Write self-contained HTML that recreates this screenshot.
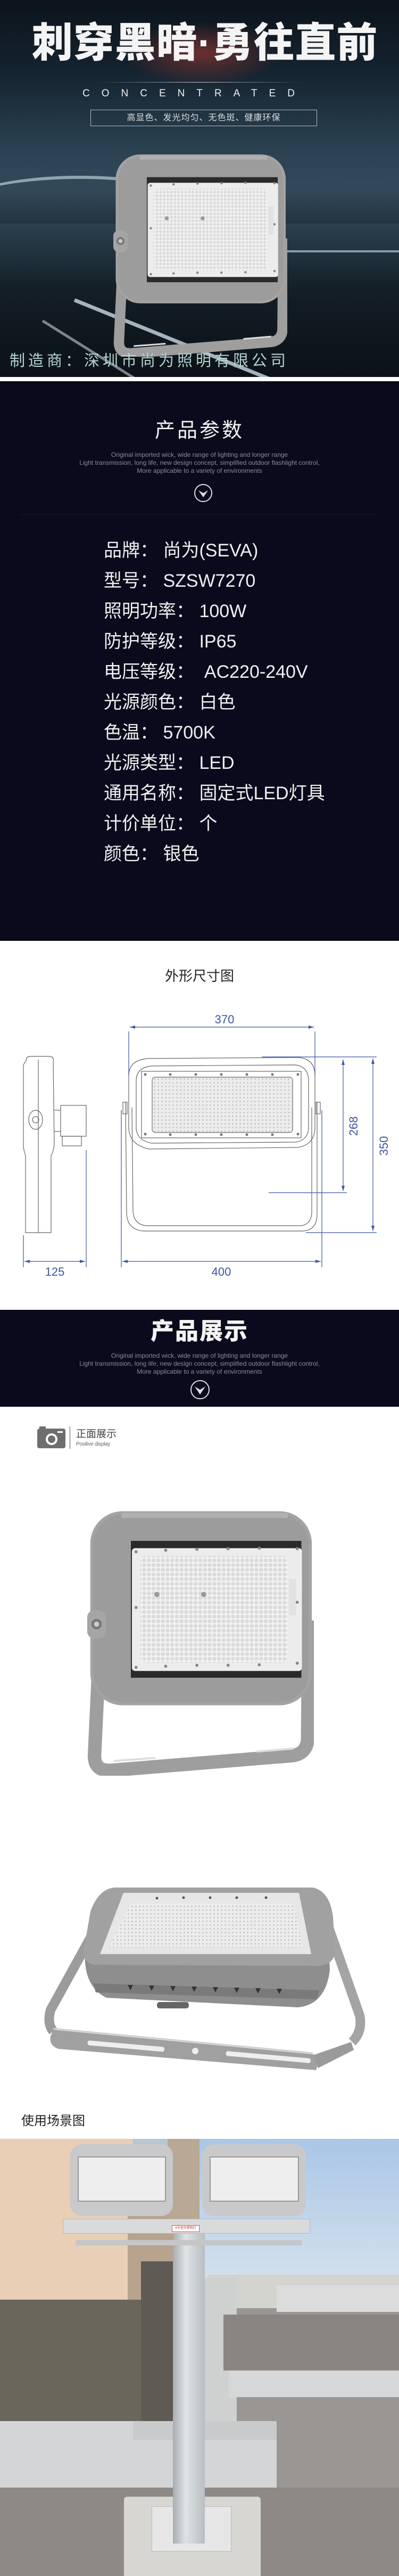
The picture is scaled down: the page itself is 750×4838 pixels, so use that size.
<!DOCTYPE html>
<html><head><meta charset="utf-8">
<style>
*{margin:0;padding:0;box-sizing:border-box}
body{width:750px;height:4838px;overflow:hidden;background:#fff;font-family:"Liberation Sans","Noto Sans CJK SC",sans-serif;position:relative}
.abs{position:absolute}
.cn{font-family:"Liberation Sans","Noto Sans CJK SC",sans-serif}
.en{color:#8a8a95;font-size:12px;text-align:center;line-height:15px;width:750px;left:0}
</style></head><body>
<svg width="0" height="0" style="position:absolute">
<defs>
<pattern id="dots" width="9" height="9" patternUnits="userSpaceOnUse"><rect width="9" height="9" fill="#f1f1f1"/><circle cx="4.5" cy="4.5" r="3" fill="#dcdcdc" stroke="#c9c9c9" stroke-width="0.6"/></pattern>
<pattern id="dots2" width="7" height="7" patternUnits="userSpaceOnUse"><rect width="7" height="7" fill="#ececec"/><circle cx="3.5" cy="3.5" r="1.3" fill="#bbb"/></pattern>
<g id="lamp">
<path d="M20 215 L8 470 Q8 500 40 498 L385 470 Q415 468 418 440 L420 210" fill="none" stroke="#9e9e9e" stroke-width="26" stroke-linejoin="round"/>
<path d="M45 480 L125 474 M320 462 L390 456" stroke="#ddd" stroke-width="4"/>
<rect x="0" y="0" width="426" height="373" rx="62" fill="#a3a3a3"/>
<rect x="6" y="6" width="414" height="361" rx="58" fill="#9c9c9c"/>
<path d="M60 8 L380 8" stroke="#b0b0b0" stroke-width="10"/>
<rect x="78" y="57" width="328" height="263" fill="#2a2a2a"/>
<rect x="80" y="71" width="327" height="236" rx="6" fill="#ececec"/>
<rect x="96" y="86" width="284" height="205" rx="10" fill="url(#dots)"/>
<rect x="382" y="130" width="14" height="70" fill="#e2e2e2"/>
<circle cx="128" cy="160" r="5" fill="#999"/><circle cx="218" cy="160" r="5" fill="#999"/>
<g fill="#888"><circle cx="88" cy="78" r="3"/><circle cx="145" cy="75" r="3"/><circle cx="205" cy="73" r="3"/><circle cx="265" cy="72" r="3"/><circle cx="325" cy="71" r="3"/><circle cx="398" cy="72" r="3"/><circle cx="88" cy="300" r="3"/><circle cx="145" cy="298" r="3"/><circle cx="205" cy="296" r="3"/><circle cx="265" cy="296" r="3"/><circle cx="325" cy="295" r="3"/><circle cx="398" cy="292" r="3"/><circle cx="88" cy="185" r="3"/><circle cx="398" cy="175" r="3"/></g>
<rect x="-6" y="190" width="36" height="55" rx="14" fill="#a5a5a5"/>
<circle cx="12" cy="217" r="10" fill="#777"/><circle cx="12" cy="217" r="5" fill="#ccc"/>
</g>
</defs>
</svg>

<!-- HERO -->
<div class="abs" style="left:0;top:0;width:750px;height:708px;background:linear-gradient(180deg,#0c141c 0%,#14222e 18%,#2b4252 40%,#33495a 50%,#1d2d38 62%,#121c24 80%,#0b1218 100%);overflow:hidden">
 <div class="abs" style="left:230px;top:40px;width:300px;height:120px;background:radial-gradient(ellipse at center,rgba(180,60,50,.55),rgba(0,0,0,0) 70%)"></div>
 <div class="abs" style="left:-100px;top:330px;width:500px;height:140px;border-radius:50%;border-top:6px solid rgba(220,240,250,.55)"></div>
 <div class="abs" style="left:0;top:420px;width:750px;height:120px;background:linear-gradient(180deg,rgba(70,100,120,.3),rgba(20,30,40,0))"></div>
 <div class="abs" style="left:140px;top:560px;width:700px;height:7px;background:rgba(230,245,255,.7);transform:rotate(22deg);transform-origin:left"></div>
 <div class="abs" style="left:80px;top:600px;width:700px;height:5px;background:rgba(230,245,255,.5);transform:rotate(32deg);transform-origin:left"></div>
 <div class="abs" style="left:530px;top:470px;width:220px;height:4px;background:rgba(200,230,245,.6)"></div>
 <div class="abs cn" style="left:20px;top:36px;width:730px;text-align:center;font-size:77px;font-weight:900;color:#f4f4f4;line-height:90px;letter-spacing:1px;white-space:nowrap">刺穿黑暗·勇往直前</div>
 <div class="abs" style="left:180px;top:154px;width:390px;height:1px;background:linear-gradient(90deg,rgba(255,255,255,0),#ccc,rgba(255,255,255,0))"></div>
 <div class="abs" style="left:155px;top:164px;width:460px;font-size:19px;color:#f0f0f0;letter-spacing:22px;line-height:24px">CONCENTRATED</div>
 <div class="abs cn" style="left:170px;top:206px;width:426px;height:31px;border:1px solid #bbb;color:#ddd;font-size:16px;line-height:29px;text-align:center;letter-spacing:1px">高显色、发光均匀、无色斑、健康环保</div>
 <svg class="abs" style="left:210px;top:285px" width="330" height="385" viewBox="-10 0 440 500"><use href="#lamp"/></svg>
 <div class="abs cn" style="left:18px;top:658px;font-size:29px;color:#b5d2d2;letter-spacing:6px;line-height:40px;white-space:nowrap">制造商：深圳市尚为照明有限公司</div>
</div>
<div class="abs" style="left:0;top:708px;width:750px;height:8px;background:#fff"></div>

<!-- PARAMS -->
<div class="abs" style="left:0;top:716px;width:750px;height:1051px;background:#0a0a1c">
 <div class="abs cn" style="left:0;top:68px;width:750px;text-align:center;font-size:38px;color:#f2f2f2;letter-spacing:4px;line-height:50px">产品参数</div>
 <div class="abs en" style="top:131px">Original imported wick, wide range of lighting and longer range<br>Light transmission, long life, new design concept, simplified outdoor flashlight control,<br>More applicable to a variety of environments</div>
 <svg class="abs" style="left:364px;top:192px" width="36" height="36"><circle cx="18" cy="18" r="16" fill="none" stroke="#ddd" stroke-width="2"/><path d="M9 13 L18 26 L27 13 L18 18Z" fill="#ddd"/></svg>
 <div class="abs" style="left:40px;top:250px;width:670px;height:1px;background:#1a1a30"></div>
 <div class="abs cn" style="left:195px;top:290px;font-size:34px;color:#f0f0f0;line-height:57px;white-space:nowrap">
  品牌：&nbsp;尚为(SEVA)<br>型号：&nbsp;SZSW7270<br>照明功率：&nbsp;100W<br>防护等级：&nbsp;IP65<br>电压等级：&nbsp;&nbsp;AC220-240V<br>光源颜色：&nbsp;白色<br>色温：&nbsp;5700K<br>光源类型：&nbsp;LED<br>通用名称：&nbsp;固定式LED灯具<br>计价单位：&nbsp;个<br>颜色：&nbsp;银色
 </div>
</div>

<!-- DIMENSIONS -->
<div class="abs cn" style="left:0;top:1815px;width:750px;text-align:center;font-size:26px;color:#222;line-height:36px">外形尺寸图</div>
<svg class="abs" style="left:0;top:1767px" width="750" height="693" viewBox="0 1767 750 693">
 <g fill="none" stroke="#666" stroke-width="1.2">
  <path d="M50 1990 Q48 1986 56 1984 L95 1984 Q102 1986 100 1995 L102 2150 Q100 2165 96 2170 L96 2315 L48 2315 L48 2170 Q44 2160 44 2150 L44 2000Z"/>
  <line x1="72" y1="1990" x2="72" y2="2315"/>
  <ellipse cx="67" cy="2103" rx="13" ry="18"/><circle cx="67" cy="2103" r="6"/>
  <rect x="114" y="2076" width="48" height="58"/><rect x="117" y="2134" width="36" height="18"/>
  <line x1="102" y1="2085" x2="114" y2="2085"/><line x1="102" y1="2125" x2="114" y2="2125"/>
  <path d="M242 2020 Q242 1990 280 1988 L560 1986 Q592 1988 592 2020 L592 2120 Q590 2150 560 2155 L280 2158 Q244 2150 242 2120Z"/>
  <path d="M256 2030 Q256 2005 285 2002 L555 2000 Q580 2003 580 2030 L580 2120 Q578 2142 555 2145 L285 2147 Q258 2142 256 2120Z"/>
  <rect x="266" y="2012" width="300" height="125"/>
  <rect x="286" y="2023" width="264" height="104" rx="6"/>
  <path d="M236 2070 L238 2280 Q240 2310 270 2312 L570 2312 Q596 2310 596 2280 L596 2070"/>
  <path d="M248 2080 L250 2275 Q252 2300 275 2302 L565 2302 Q586 2300 586 2275 L586 2080"/>
  <rect x="231" y="2070" width="8" height="22"/><rect x="594" y="2070" width="8" height="22"/>
 </g>
 <rect x="287" y="2024" width="262" height="102" rx="6" fill="url(#dots2)"/>
 <g fill="#777"><circle cx="273" cy="2018" r="2.5"/><circle cx="320" cy="2018" r="2.5"/><circle cx="368" cy="2018" r="2.5"/><circle cx="416" cy="2018" r="2.5"/><circle cx="464" cy="2018" r="2.5"/><circle cx="512" cy="2018" r="2.5"/><circle cx="560" cy="2018" r="2.5"/><circle cx="273" cy="2130" r="2.5"/><circle cx="320" cy="2131" r="2.5"/><circle cx="368" cy="2131" r="2.5"/><circle cx="416" cy="2131" r="2.5"/><circle cx="464" cy="2131" r="2.5"/><circle cx="512" cy="2131" r="2.5"/><circle cx="560" cy="2130" r="2.5"/></g>
 <g stroke="#3e55a5" stroke-width="1.2" fill="#3e55a5">
  <line x1="242" y1="1937" x2="242" y2="2020"/><line x1="592" y1="1937" x2="592" y2="2020"/>
  <line x1="244" y1="1929" x2="590" y2="1929"/>
  <path d="M244 1929 l10 -3 v6z M590 1929 l-10 -3 v6z" stroke="none"/>
  <line x1="228" y1="2085" x2="228" y2="2380"/><line x1="605" y1="2085" x2="605" y2="2380"/>
  <line x1="230" y1="2369" x2="603" y2="2369"/>
  <path d="M230 2369 l10 -3 v6z M603 2369 l-10 -3 v6z" stroke="none"/>
  <line x1="44" y1="2320" x2="44" y2="2380"/><line x1="162" y1="2160" x2="162" y2="2380"/>
  <line x1="46" y1="2369" x2="160" y2="2369"/>
  <path d="M46 2369 l10 -3 v6z M160 2369 l-10 -3 v6z" stroke="none"/>
  <line x1="492" y1="1985" x2="708" y2="1985"/><line x1="505" y1="2240" x2="652" y2="2240"/><line x1="575" y1="2315" x2="708" y2="2315"/>
  <line x1="645" y1="1990" x2="645" y2="2237"/>
  <path d="M645 1990 l-3 10 h6z M645 2237 l-3 -10 h6z" stroke="none"/>
  <line x1="701" y1="1988" x2="701" y2="2312"/>
  <path d="M701 1988 l-3 10 h6z M701 2312 l-3 -10 h6z" stroke="none"/>
 </g>
 <g fill="#3e55a5" font-family="Liberation Sans" font-size="22">
  <text x="422" y="1922" text-anchor="middle">370</text>
  <text x="416" y="2396" text-anchor="middle">400</text>
  <text x="103" y="2396" text-anchor="middle">125</text>
  <text transform="translate(672 2115) rotate(-90)" text-anchor="middle">268</text>
  <text transform="translate(729 2152) rotate(-90)" text-anchor="middle">350</text>
 </g>
</svg>

<!-- PRODUCT DISPLAY -->
<div class="abs" style="left:0;top:2460px;width:750px;height:182px;background:#0a0a1c">
 <div class="abs cn" style="left:0;top:14px;width:750px;text-align:center;font-size:44px;font-weight:900;color:#f4f4f4;letter-spacing:2px;line-height:54px">产品展示</div>
 <div class="abs en" style="top:79px">Original imported wick, wide range of lighting and longer range<br>Light transmission, long life, new design concept, simplified outdoor flashlight control,<br>More applicable to a variety of environments</div>
 <svg class="abs" style="left:357px;top:131px" width="38" height="38"><circle cx="19" cy="19" r="17" fill="none" stroke="#ddd" stroke-width="2"/><path d="M9 13 L19 28 L29 13 L19 19Z" fill="#ddd"/></svg>
</div>
<svg class="abs" style="left:70px;top:2679px" width="54" height="42"><rect x="0" y="4" width="53" height="37" rx="4" fill="#6e6e6e"/><rect x="4" y="0" width="12" height="6" fill="#6e6e6e"/><circle cx="27" cy="24" r="11" fill="#fff"/><circle cx="27" cy="24" r="7" fill="#6e6e6e"/><rect x="38" y="9" width="10" height="3" fill="#fff"/></svg>
<div class="abs" style="left:131px;top:2679px;width:1px;height:42px;background:#555"></div>
<div class="abs cn" style="left:143px;top:2683px;font-size:19px;color:#444;line-height:22px">正面展示</div>
<div class="abs" style="left:143px;top:2707px;font-size:10px;color:#666;letter-spacing:-.3px">Positive display</div>
<svg class="abs" style="left:160px;top:2835px" width="430" height="500" viewBox="-10 0 440 505"><use href="#lamp"/></svg>

<!-- perspective lamp (absolute coords) -->
<svg class="abs" style="left:0;top:3500px" width="750" height="420" viewBox="0 3500 750 420">
 <!-- back bracket arms -->
 <path d="M185 3612 L95 3775 Q88 3800 100 3815" fill="none" stroke="#9c9c9c" stroke-width="18" stroke-linejoin="round"/>
 <path d="M615 3612 L676 3785 Q682 3815 662 3835" fill="none" stroke="#a4a4a4" stroke-width="18" stroke-linejoin="round"/>
 <!-- body side -->
 <path d="M160 3660 Q155 3730 200 3752 L560 3770 Q612 3765 620 3700 L618 3660Z" fill="#8e8e8e"/>
 <path d="M175 3725 L600 3738 L595 3755 L180 3742Z" fill="#7a7a7a"/>
 <g fill="#333"><path d="M240 3728 l10 0 -5 10z"/><path d="M280 3729 l10 0 -5 10z"/><path d="M320 3730 l10 0 -5 10z"/><path d="M360 3731 l10 0 -5 10z"/><path d="M400 3732 l10 0 -5 10z"/><path d="M440 3733 l10 0 -5 10z"/><path d="M480 3734 l10 0 -5 10z"/><path d="M520 3735 l10 0 -5 10z"/></g>
 <rect x="295" y="3760" width="60" height="12" rx="5" fill="#666"/>
 <!-- top face -->
 <path d="M215 3545 L588 3545 Q620 3552 626 3600 L630 3668 Q625 3690 600 3692 L180 3690 Q155 3688 158 3660 L170 3590 Q185 3548 215 3545Z" fill="#a1a1a1"/>
 <path d="M232 3555 L562 3555 L585 3670 L188 3670Z" fill="#e6e6e6"/>
 <path d="M245 3575 L552 3575 L570 3658 L205 3658Z" fill="url(#dots2)"/>
 <g fill="#555"><circle cx="295" cy="3565" r="2.5"/><circle cx="345" cy="3564" r="2.5"/><circle cx="395" cy="3564" r="2.5"/><circle cx="445" cy="3564" r="2.5"/><circle cx="500" cy="3564" r="2.5"/></g>
 <!-- front bar -->
 <path d="M100 3812 L588 3858 Q600 3860 598 3875 L594 3888 L110 3848 Q92 3842 95 3825Z" fill="#a0a0a0"/>
 <path d="M588 3860 L660 3835 L665 3850 L598 3884Z" fill="#9a9a9a"/>
 <path d="M100 3810 L588 3856" stroke="#cfcfcf" stroke-width="3"/>
 <rect x="165" y="3832" width="145" height="9" rx="4" fill="#eee" transform="rotate(5 165 3832)"/>
 <rect x="425" y="3852" width="160" height="9" rx="4" fill="#eee" transform="rotate(5 425 3852)"/>
 <circle cx="367" cy="3852" r="6" fill="#eee"/>
</svg>

<div class="abs cn" style="left:40px;top:3968px;font-size:24px;color:#222;line-height:32px">使用场景图</div>

<!-- SCENE PHOTO -->
<div class="abs" style="left:0;top:4017px;width:750px;height:821px;overflow:hidden;background:#b9c5d3">
 <div class="abs" style="left:358px;top:0;width:392px;height:290px;background:linear-gradient(180deg,#a9c6e6,#d7e3ee)"></div>
 <div class="abs" style="left:390px;top:255px;width:360px;height:65px;background:#d3d3d0"></div>
 <div class="abs" style="left:380px;top:318px;width:370px;height:510px;background:#9a9693"></div>
 <div class="abs" style="left:385px;top:260px;width:60px;height:300px;background:#cfd0d0"></div>
 <div class="abs" style="left:420px;top:330px;width:330px;height:105px;background:#8a8582"></div>
 <div class="abs" style="left:430px;top:435px;width:320px;height:50px;background:#d6d7d8"></div>
 <div class="abs" style="left:520px;top:275px;width:230px;height:50px;background:#dcdcdc"></div>
 <div class="abs" style="left:0;top:0;width:250px;height:302px;background:#e9cfb6"></div>
 <div class="abs" style="left:240px;top:110px;width:90px;height:330px;background:#b7a38e"></div>
 <div class="abs" style="left:0;top:302px;width:265px;height:233px;background:#6b665c"></div>
 <div class="abs" style="left:265px;top:230px;width:60px;height:300px;background:#5f5a53"></div>
 <div class="abs" style="left:0;top:530px;width:520px;height:130px;background:#d4d5d6"></div>
 <div class="abs" style="left:0;top:655px;width:750px;height:183px;background:#8e8985"></div>
 <div class="abs" style="left:250px;top:530px;width:270px;height:35px;background:#c9cacb"></div>
 <div class="abs" style="left:315px;top:0;width:60px;height:170px;background:#b9a893"></div>
 <div class="abs" style="left:325px;top:170px;width:60px;height:600px;background:linear-gradient(90deg,#a7adb1,#dfe3e5 40%,#b8bec2)"></div>
 <div class="abs" style="left:233px;top:672px;width:257px;height:166px;background:#d8d6d2;border-radius:6px"></div>
 <div class="abs" style="left:285px;top:690px;width:150px;height:85px;background:#e6e6e6;border:1px solid #bbb"></div>
 <div class="abs" style="left:325px;top:660px;width:60px;height:100px;background:linear-gradient(90deg,#a7adb1,#dfe3e5 40%,#b8bec2)"></div>
 <div class="abs" style="left:118px;top:150px;width:465px;height:28px;background:#d9dadb;border:1px solid #b9b9b9"></div>
 <div class="abs" style="left:142px;top:190px;width:425px;height:10px;background:#c4c6c8"></div>
 <div class="abs" style="left:323px;top:162px;width:52px;height:13px;background:#fff;border:1px solid #d55;font-size:6px;color:#c33;text-align:center;line-height:11px">6号室外照明灯</div>
 <div class="abs" style="left:132px;top:10px;width:193px;height:135px;border-radius:22px;background:#c9c9cc"></div>
 <div class="abs" style="left:146px;top:33px;width:166px;height:85px;background:#eeeeef;border:2px solid #999"></div>
 <div class="abs" style="left:380px;top:10px;width:195px;height:135px;border-radius:22px;background:#c9c9cc"></div>
 <div class="abs" style="left:394px;top:33px;width:168px;height:85px;background:#eeeeef;border:2px solid #999"></div>
</div>
</body></html>
